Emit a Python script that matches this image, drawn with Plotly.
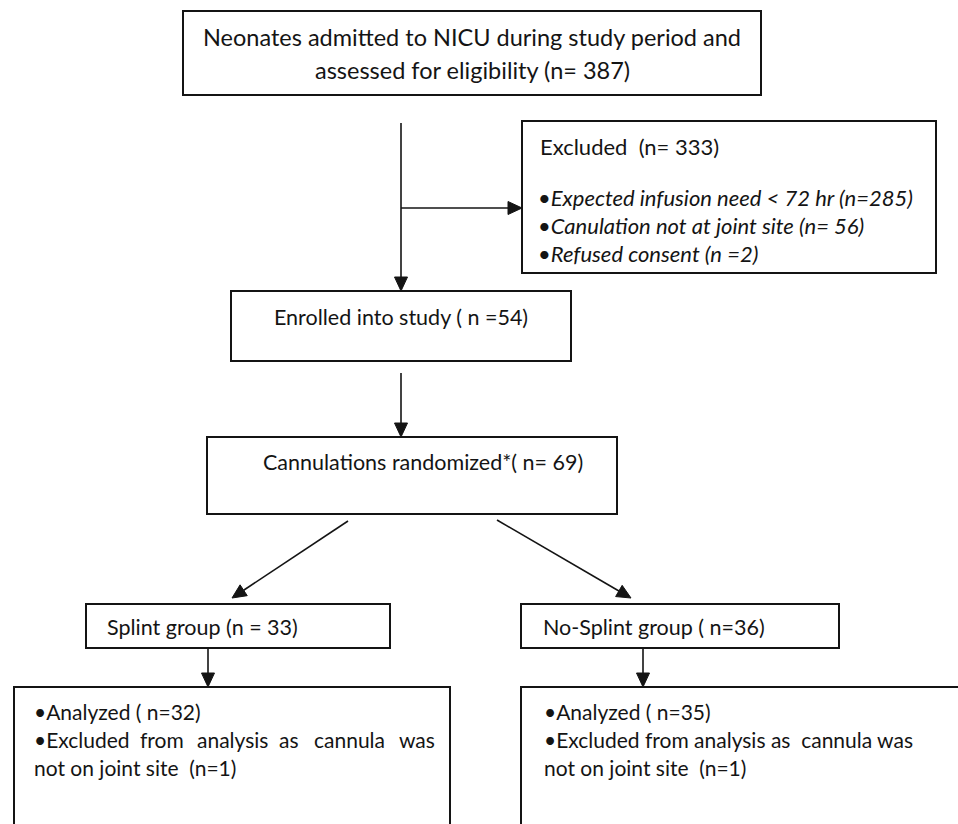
import math
import plotly.graph_objects as go

# ---- data (counts) ----
assessed_n = [387]
excluded_n = [333]
excl_reasons = ["Expected infusion need < 72 hr", "Canulation not at joint site", "Refused consent"]
excl_counts = [285, 56, 2]
enrolled_n = [54]
randomized_n = [69]
groups = ["Splint group", "No-Splint group"]
group_n = [33, 36]
analyzed_n = [32, 35]
post_excluded_n = [1, 1]

# ---- layout geometry (pixel space, y grows downward) ----
W, H = 958, 824
FONT = "Lato"
INK = "#141414"

boxes = {
    "top": (183, 11, 761, 95),
    "excl": (522, 121, 936, 273),
    "enr": (231, 291, 571, 361),
    "rand": (207, 437, 617, 514),
    "splint": (86, 604, 390, 648),
    "nosplint": (521, 604, 839, 648),
    "resL": (14, 687, 450, 840),
    "resR": (521, 687, 970, 840),
}
arrows = [
    ((401, 123), (401, 291)),
    ((401, 208), (522, 208)),
    ((401, 373), (401, 437)),
    ((348, 521), (232, 598)),
    ((497, 520), (631, 598)),
    ((208, 648), (208, 687)),
    ((643, 648), (643, 687)),
]

fig = go.Figure()
shapes = []
for (x0, y0, x1, y1) in boxes.values():
    shapes.append(dict(type="rect", xref="x", yref="y", x0=x0, y0=y0, x1=x1, y1=y1,
                       line=dict(color=INK, width=2), fillcolor="rgba(0,0,0,0)"))

HL, HW = 14, 6.5
for (sx, sy), (tx, ty) in arrows:
    dx, dy = tx - sx, ty - sy
    L = math.hypot(dx, dy)
    ux, uy = dx / L, dy / L
    bx, by = tx - ux * HL, ty - uy * HL
    px, py = -uy, ux
    shapes.append(dict(type="line", xref="x", yref="y", x0=sx, y0=sy, x1=bx, y1=by,
                       line=dict(color=INK, width=1.6)))
    path = (f"M {tx},{ty} L {bx + px * HW},{by + py * HW} "
            f"L {bx - px * HW},{by - py * HW} Z")
    shapes.append(dict(type="path", xref="x", yref="y", path=path,
                       fillcolor=INK, line=dict(color=INK, width=1)))

ann = []


def txt(x, y, s, anchor="left", italic=False, size=21):
    ann.append(dict(x=x, y=y, xref="x", yref="y", text=s, showarrow=False,
                    xanchor=anchor, yanchor="middle",
                    font=dict(family=FONT, size=size, color=INK,
                              style="italic" if italic else "normal")))


txt(472, 37, "Neonates admitted to NICU during study period and", "center", size=23.5)
txt(472, 70, f"assessed for eligibility (n= {assessed_n[0]})", "center", size=23.5)

txt(538, 146, f"Excluded  (n= {excluded_n[0]})", size=22)
fmt = ["(n={})", "(n= {})", "(n ={})"]
ys = [197, 225, 253]
for r, c, f, y in zip(excl_reasons, excl_counts, fmt, ys):
    txt(536, y, "•" + r + " " + f.format(c), italic=True, size=22)

txt(401, 317, f"Enrolled into study ( n ={enrolled_n[0]})", "center", size=21.5)
txt(423, 462, f"Cannulations randomized*( n= {randomized_n[0]})", "center", size=21.5)

txt(105, 627, f"{groups[0]} (n = {group_n[0]})", size=21.5)
txt(541, 627, f"{groups[1]} ( n={group_n[1]})", size=21.5)

# left result box (second line is justified)
txt(32, 711, f"•Analyzed ( n={analyzed_n[0]})")
for wx, w in zip([32, 138, 195, 277, 312, 397],
                 ["•Excluded", "from", "analysis", "as", "cannula", "was"]):
    txt(wx, 739, w)
txt(32, 767, f"not on joint site  (n={post_excluded_n[0]})")

# right result box
txt(542, 711, f"•Analyzed ( n={analyzed_n[1]})")
txt(542, 739, "•Excluded from analysis as  cannula was")
txt(542, 767, f"not on joint site  (n={post_excluded_n[1]})")

fig.update_layout(
    width=W, height=H, margin=dict(l=0, r=0, t=0, b=0),
    paper_bgcolor="white", plot_bgcolor="white",
    xaxis=dict(range=[0, W], visible=False, fixedrange=True),
    yaxis=dict(range=[H, 0], visible=False, fixedrange=True),
    shapes=shapes, annotations=ann, showlegend=False,
)
fig.write_html("out.html", config={"displayModeBar": False},
               post_script="document.body.style.margin='0px';")
